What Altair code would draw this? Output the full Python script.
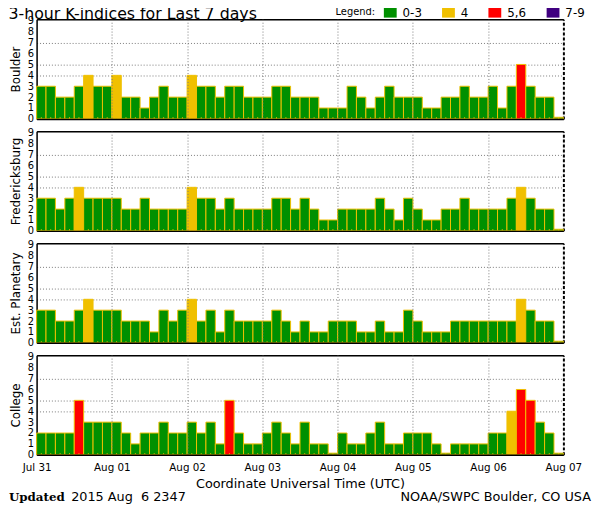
import altair as alt
import pandas as pd

# ---------------- data ----------------
stations = ["Boulder", "Fredericksburg", "Est. Planetary", "College"]

boulder = [3, 3, 2, 2, 3, 4, 3, 3,
           4, 2, 2, 1, 2, 3, 2, 2,
           4, 3, 3, 2, 3, 3, 2, 2,
           2, 3, 3, 2, 2, 2, 1, 1,
           1, 3, 2, 1, 2, 3, 2, 2,
           2, 1, 1, 2, 2, 3, 2, 2,
           3, 1, 3, 5, 3, 2, 2, 0]

fredericksburg = [3, 3, 2, 3, 4, 3, 3, 3,
                  3, 2, 2, 3, 2, 2, 2, 2,
                  4, 3, 3, 2, 3, 2, 2, 2,
                  2, 3, 3, 2, 3, 2, 1, 1,
                  2, 2, 2, 2, 3, 2, 1, 3,
                  2, 1, 1, 2, 2, 3, 2, 2,
                  2, 2, 3, 4, 3, 2, 2, 0]

planetary = [3, 3, 2, 2, 3, 4, 3, 3,
             3, 2, 2, 2, 1, 3, 2, 3,
             4, 2, 3, 1, 3, 2, 2, 2,
             2, 3, 2, 1, 2, 1, 1, 2,
             2, 2, 1, 1, 2, 1, 1, 3,
             2, 1, 1, 1, 2, 2, 2, 2,
             2, 2, 2, 4, 3, 2, 2, 0]

college = [2, 2, 2, 2, 5, 3, 3, 3,
           3, 2, 1, 2, 2, 3, 2, 2,
           3, 2, 3, 1, 5, 2, 1, 1,
           2, 3, 2, 1, 3, 1, 1, 0,
           2, 1, 1, 2, 3, 1, 1, 2,
           2, 2, 1, 0, 1, 1, 1, 1,
           2, 2, 4, 6, 5, 3, 2, 0]

series = [boulder, fredericksburg, planetary, college]

day_labels = ["Jul 31", "Aug 01", "Aug 02", "Aug 03", "Aug 04", "Aug 05", "Aug 06", "Aug 07"]
legend_labels = ["0-3", "4", "5,6", "7-9"]
legend_colors = ["#009000", "#F0C000", "#FF0000", "#400080"]
y_ticks = list(range(10))
grid_levels = [4, 5, 7]

title_text = "3-hour K-indices for Last 7 days"
x_title = "Coordinate Universal Time (UTC)"
updated_word = "Updated"
updated_stamp = "2015 Aug \u00a06 2347"
credit = "NOAA/SWPC Boulder, CO USA"

# ---------------- styling ----------------
FONT = "DejaVu Sans"
OUTLINE = "#F0C000"
GRID = "#7a7a7a"
W, H = 534, 101
STEP = 3
TOTAL = (len(day_labels) - 1) * 24
BAR_W = W * STEP / TOTAL


def category(k):
    if k <= 3:
        return legend_labels[0]
    if k == 4:
        return legend_labels[1]
    if k <= 6:
        return legend_labels[2]
    return legend_labels[3]


def make_df(values):
    starts = [i * STEP for i in range(len(values))]
    return pd.DataFrame({
        "mid": [s + STEP / 2 for s in starts],
        "k": values,
        "cat": [category(v) for v in values],
    })


xs = alt.Scale(domain=[0, TOTAL], nice=False, zero=False, padding=0)
ys = alt.Scale(domain=[0, 9.15], nice=False, padding=0)
cs = alt.Scale(domain=legend_labels, range=legend_colors)

label_array = "[" + ",".join("'%s'" % d for d in day_labels) + "]"
grid_test = "indexof([" + ",".join(str(g) for g in grid_levels) + "], datum.value) >= 0"


def panel(i):
    name = stations[i]
    last = i == len(stations) - 1
    first = i == 0
    base = alt.Chart(make_df(series[i])).transform_calculate(
        kshow="max(datum.k, 0.15)", stub="0.15")

    x_axis = alt.Axis(
        orient="bottom", values=[d * 24 for d in range(len(day_labels))],
        labelExpr=label_array + "[round(datum.value / 24)]",
        labels=last, ticks=False, domain=True, domainColor="black", domainWidth=1.5,
        grid=True, gridColor=GRID, gridDash=[1, 2], gridWidth=1,
        gridOpacity={"condition": {"test": "datum.value > 0 && datum.value < %d" % TOTAL, "value": 1}, "value": 0},
        labelFont=FONT, labelFontSize=10.5, labelColor="black", labelPadding=8,
        labelFlush=False,
        title=x_title if last else None, titleFont=FONT, titleFontSize=13,
        titleFontWeight="normal", titleColor="black", titlePadding=5, zindex=1,
    )
    y_axis = alt.Axis(
        orient="left", values=y_ticks, ticks=False, labelPadding=3,
        labelFont=FONT, labelFontSize=10, labelColor="black",
        domain=True, domainColor="black", domainWidth=1.5,
        grid=True, gridColor=GRID, gridDash=[1, 2], gridWidth=1,
        gridOpacity={"condition": {"test": grid_test, "value": 1}, "value": 0},
        title=name, titleFont=FONT, titleFontSize=12, titleFontWeight="normal",
        titleColor="black", titlePadding=5,
    )
    legend = None
    if first:
        legend = alt.Legend(
            title="Legend:", titleOrient="left", orient="none", legendX=303, legendY=-13.5,
            direction="horizontal", columns=4, padding=0,
            symbolType="M-1,-0.78L1,-0.78L1,0.78L-1,0.78Z", symbolSize=169,
            symbolStrokeWidth=0, symbolOpacity=1, labelOffset=6, columnPadding=20,
            labelFont=FONT, labelFontSize=12, labelColor="black",
            titleFont=FONT, titleFontSize=10, titleFontWeight="normal",
            titleColor="black", titlePadding=8, titleBaseline="middle",
        )

    bars = base.mark_bar(stroke=OUTLINE, strokeWidth=1, opacity=1, width=BAR_W,
                         orient="vertical").encode(
        x=alt.X("mid:Q", scale=xs, axis=x_axis),
        y=alt.Y("kshow:Q", scale=ys, axis=y_axis),
        color=alt.Color("cat:N", scale=cs, legend=legend),
    )
    marks = base.mark_bar(color=OUTLINE, width=1, orient="vertical").encode(
        x=alt.X("mid:Q", axis=alt.Axis(orient="top", labels=False, ticks=False, grid=False,
                                       domainColor="black", domainWidth=1.5, title=None)),
        y=alt.Y("stub:Q", axis=alt.Axis(orient="right", labels=False, ticks=False, grid=False,
                                        domainColor="black", domainWidth=2,
                                        domainDash=[3, 2], title=None)),
    )
    layers = [bars, marks]
    if last:
        foot_y = H + 47
        layers.append(alt.Chart(pd.DataFrame({"t": [updated_word]})).mark_text(
            align="left", baseline="alphabetic", font="DejaVu Serif", fontWeight="bold",
            fontSize=12, color="black").encode(text="t:N", x=alt.value(-28), y=alt.value(foot_y)))
        layers.append(alt.Chart(pd.DataFrame({"t": [updated_stamp]})).mark_text(
            align="left", baseline="alphabetic", font=FONT, fontSize=13,
            color="black").encode(text="t:N", x=alt.value(35), y=alt.value(foot_y)))
        layers.append(alt.Chart(pd.DataFrame({"t": [credit]})).mark_text(
            align="right", baseline="alphabetic", font=FONT, fontSize=13,
            color="black").encode(text="t:N", x=alt.value(W + 28), y=alt.value(foot_y)))
    return alt.layer(*layers).resolve_axis(x="independent", y="independent").properties(
        width=W, height=H)


chart = alt.vconcat(*[panel(i) for i in range(len(stations))], spacing=2.5).resolve_scale(
    color="independent"
).properties(
    padding={"top": -6, "left": 0, "right": 0, "bottom": 0},
    title=alt.TitleParams(title_text, anchor="start", font=FONT, fontSize=16,
                          fontWeight="normal", color="black", offset=-17),
).configure_view(stroke=None).configure(background="white")

chart.save("out.html", embed_options={"renderer": "svg", "actions": False})
